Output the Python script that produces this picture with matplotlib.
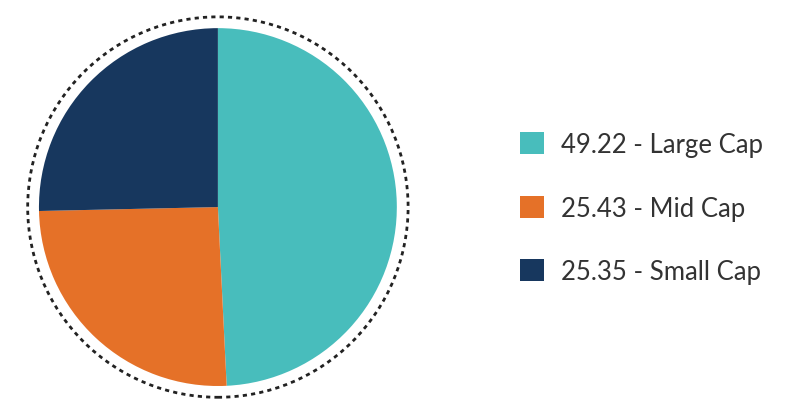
import matplotlib.pyplot as plt
from matplotlib.patches import Circle

labels = ['Large Cap', 'Mid Cap', 'Small Cap']
values = [49.22, 25.43, 25.35]
colors = ['#48BDBC', '#E57128', '#17375E']

fig = plt.figure(figsize=(8.1, 4.1), dpi=100)
ax = fig.add_axes([0.026, 0.012, 0.486, 0.961])
wedges, _ = ax.pie(values, colors=colors, startangle=90, counterclock=False,
                   radius=1.0, wedgeprops=dict(linewidth=0))
ax.add_patch(Circle((0, 0), 1.063, fill=False, linestyle=(0, (1.5, 1.5)),
                    linewidth=2, edgecolor='#222222'))
ax.set_xlim(-1.1, 1.1)
ax.set_ylim(-1.1, 1.1)
ax.set_aspect('equal')
ax.axis('off')

leg_labels = [f'{v:.2f} - {l}' for v, l in zip(values, labels)]
fig.legend(wedges, leg_labels, loc='center left', bbox_to_anchor=(0.613, 0.49),
           frameon=False, labelspacing=1.5, handlelength=0.95,
           handleheight=0.95, handletextpad=0.65, labelcolor='#333333',
           prop={'family': 'Lato', 'size': 18.5})
fig.savefig('out.png', dpi=100)
